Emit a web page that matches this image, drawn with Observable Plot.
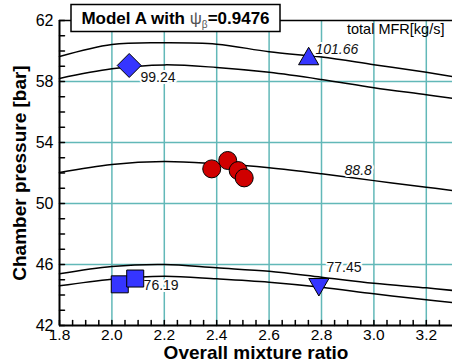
<!DOCTYPE html>
<html><head><meta charset="utf-8">
<script src="https://cdn.jsdelivr.net/npm/d3@7"></script>
<script src="https://cdn.jsdelivr.net/npm/@observablehq/plot@0.6"></script>
<style>body{margin:0;background:#fff}#c{width:452px;height:364px;overflow:hidden}</style>
</head><body><div id="c"></div>
<script>
// mixture ratio sample points for each total-MFR curve
const xs = [1.8, 2.0, 2.2, 2.4, 2.6, 2.8, 3.0, 3.2, 3.3];
const curve101_66 = [59.64, 60.43, 60.54, 60.45, 59.95, 59.6, 59.1, 58.6, 58.33];
const curve99_24  = [58.2, 58.83, 59.09, 58.92, 58.6, 58.13, 57.59, 57.13, 56.89];
const curve88_8   = [52.03, 52.56, 52.75, 52.6, 52.34, 51.95, 51.5, 51.07, 50.85];
const curve77_45  = [45.39, 45.87, 46.0, 45.78, 45.56, 45.17, 44.77, 44.47, 44.3];
const curve76_19  = [44.6, 45.04, 45.23, 45.06, 44.84, 44.51, 44.08, 43.69, 43.5];
const curveNames = ["101.66", "99.24", "88.8", "77.45", "76.19"];

// measured points
const diamondPts = [{x: 2.066, y: 59.05}];
const triUpPts = [{x: 2.751, y: 59.48}];
const triDownPts = [{x: 2.79, y: 44.7}];
const squarePts = [{x: 2.03, y: 44.7}, {x: 2.089, y: 45.08}];
const circlePts = [{x: 2.381, y: 52.27}, {x: 2.442, y: 52.82}, {x: 2.482, y: 52.16}, {x: 2.505, y: 51.68}];

// curve labels
const labelText = ["99.24", "101.66", "88.8", "77.45", "76.19"];
const labelX = [2.109, 2.777, 2.888, 2.819, 2.121];
const labelY = [58.26, 60.07, 52.16, 45.77, 44.62];
const labelItalic = [false, true, true, false, false];

// axes
const xTicks = [1.8, 2.0, 2.2, 2.4, 2.6, 2.8, 3.0, 3.2];
const xGrid = [2.0, 2.2, 2.4, 2.6, 2.8, 3.0, 3.2];
const xMinor = d3.range(36).map(i => +(1.8 + i * 0.05).toFixed(2)).filter(v => v < 3.3);
const yTicks = [42, 46, 50, 54, 58, 62];
const yGrid = [46, 50, 54, 58];
const yMinor = d3.range(42, 63, 1);

const titleMain = "Model A with ";
const titleSym = "ψ";
const titleSub = "β";
const titleVal = "=0.9476";
const unitText = "total MFR[kg/s]";
const xLabel = "Overall mixture ratio";
const yLabel = "Chamber pressure [bar]";

const curves = [curve101_66, curve99_24, curve88_8, curve77_45, curve76_19];
const lineData = curves.flatMap((c, k) => c.map((v, i) => ({x: xs[i], y: v, s: curveNames[k]})));
const labels = labelText.map((t, i) => ({t, x: labelX[i], y: labelY[i], it: labelItalic[i]}));

const stub = {draw(ctx, l) { ctx.moveTo(0, 0); ctx.lineTo(0, -l); }};
const blue = "#3535ff", red = "#d00000", teal = "#62b8b8";

const chart = Plot.plot({
  width: 452, height: 364,
  marginLeft: 59, marginRight: 0, marginTop: 20, marginBottom: 39,
  style: {fontFamily: "'Liberation Sans', Arial, sans-serif", fontSize: "14px", background: "white"},
  x: {domain: [1.8, 3.3]},
  y: {domain: [42, 62]},
  marks: [
    Plot.ruleX(xGrid, {stroke: teal, strokeWidth: 1.5}),
    Plot.ruleY(yGrid, {stroke: teal, strokeWidth: 1.5}),
    Plot.line(lineData, {x: "x", y: "y", z: "s", curve: "catmull-rom", stroke: "black", strokeWidth: 1.5}),
    Plot.text(labels.filter(d => !d.it), {x: "x", y: "y", text: "t", textAnchor: "start", fontSize: 14, fill: "#111", stroke: "white", strokeWidth: 4}),
    Plot.text(labels.filter(d => d.it), {x: "x", y: "y", text: "t", textAnchor: "start", fontSize: 14, fontStyle: "italic", fill: "#111", stroke: "white", strokeWidth: 4}),
    Plot.dot(circlePts, {x: "x", y: "y", r: 9, fill: red, stroke: "black", strokeWidth: 1}),
    Plot.dot(squarePts, {x: "x", y: "y", r: 9.6, symbol: "square", fill: blue, stroke: "black", strokeWidth: 1}),
    Plot.dot(diamondPts, {x: "x", y: "y", r: 10.8, symbol: "diamond2", fill: blue, stroke: "black", strokeWidth: 1}),
    Plot.dot(triUpPts, {x: "x", y: "y", r: 7.5, symbol: "triangle", fill: blue, stroke: "black", strokeWidth: 1}),
    Plot.dot(triDownPts, {x: "x", y: "y", r: 7.5, symbol: "triangle", rotate: 180, fill: blue, stroke: "black", strokeWidth: 1}),
    Plot.vector(xMinor, {x: d => d, y: 42, length: 5, rotate: 0, anchor: "start", shape: stub, stroke: "black", strokeWidth: 1.5}),
    Plot.vector(yMinor, {x: 1.8, y: d => d, length: 5, rotate: 90, anchor: "start", shape: stub, stroke: "black", strokeWidth: 1.5}),
    Plot.ruleX([1.8], {stroke: "black", strokeWidth: 2}),
    Plot.ruleY([42], {stroke: "black", strokeWidth: 2}),
    Plot.ruleY([62], {stroke: "black", strokeWidth: 1.5}),
    Plot.axisX({ticks: xTicks, tickSize: 0, tickPadding: 3, tickFormat: d => d.toFixed(1), fontSize: 15.5, label: null}),
    Plot.axisY({ticks: yTicks, tickSize: 0, tickPadding: 6, tickFormat: d => String(d), fontSize: 16, label: null}),
    Plot.text([xLabel], {text: d => d, frameAnchor: "bottom", textAnchor: "middle", lineAnchor: "bottom", dy: 33, fontSize: 19, fontWeight: "bold", fill: "black"}),
    Plot.text([yLabel], {text: d => d, frameAnchor: "left", textAnchor: "middle", lineAnchor: "middle", rotate: -90, dx: -40, fontSize: 19, fontWeight: "bold", fill: "black"}),
    Plot.text([unitText], {text: d => d, frameAnchor: "top-right", textAnchor: "end", lineAnchor: "top", dx: -8, dy: 3, fontSize: 14.5, fill: "black"})
  ]
});

const svg = d3.select(chart);
const g = svg.append("g");
g.append("rect").attr("x", 71).attr("y", 4.5).attr("width", 209).attr("height", 27)
  .attr("fill", "white").attr("stroke", "black").attr("stroke-width", 1.5);
const t = g.append("text").attr("x", 175.5).attr("y", 24).attr("text-anchor", "middle")
  .attr("font-family", "'Liberation Sans', Arial, sans-serif").attr("font-size", 17).attr("font-weight", "bold").attr("fill", "black");
t.append("tspan").text(titleMain);
t.append("tspan").attr("font-weight", "normal").attr("fill", "#555").text(titleSym);
t.append("tspan").attr("font-weight", "normal").attr("font-size", 10).attr("dy", 4).attr("fill", "#555").text(titleSub);
t.append("tspan").attr("dy", -4).text(titleVal);

document.getElementById("c").appendChild(chart);
</script>
</body></html>
